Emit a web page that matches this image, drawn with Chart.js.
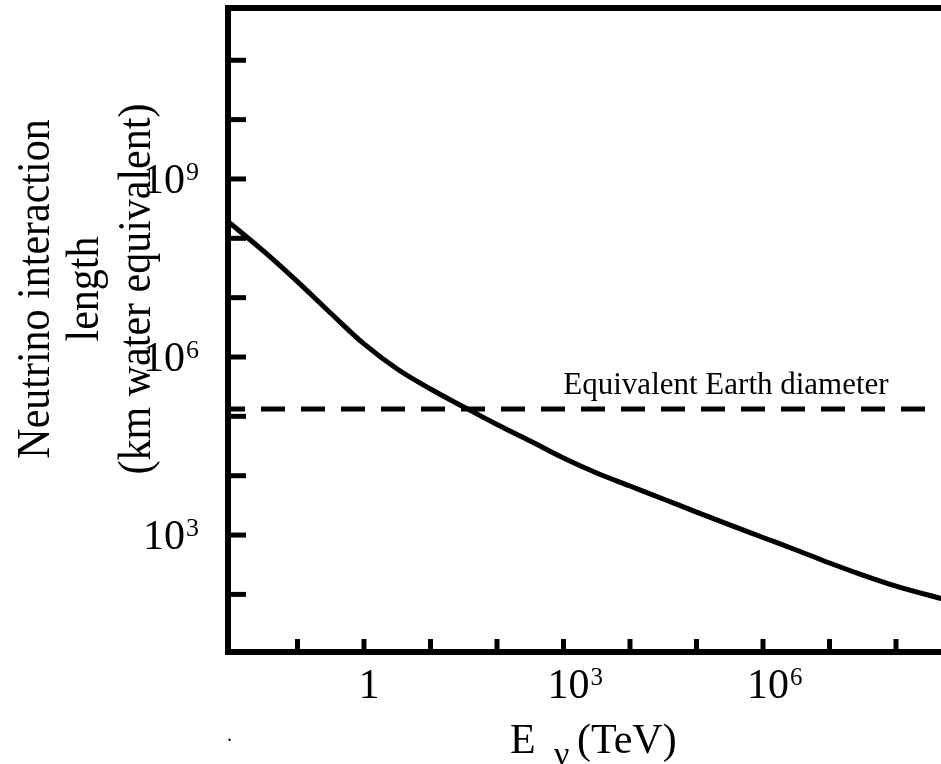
<!DOCTYPE html>
<html>
<head>
<meta charset="utf-8">
<script src="https://cdn.jsdelivr.net/npm/chart.js@4.4.1/dist/chart.umd.min.js"></script>
<style>
html,body{margin:0;padding:0;background:#fff;overflow:hidden}
#wrap{width:941px;height:764px;position:relative}
canvas{display:block}
</style>
</head>
<body>
<div id="wrap"><canvas id="c" width="941" height="764"></canvas></div>
<script>
// ---- data ----
const energyTeV = [0.0089, 0.0316, 0.1, 0.316, 1, 3.16, 10, 31.6, 100, 316, 1e3, 3.16e3, 1e4, 3.16e4, 1e5, 3.16e5, 1e6, 3.16e6, 1e7, 3.16e7, 1e8, 5e8];
const interactionLengthKm = [1.95e8, 5.95e7, 1.86e7, 5.47e6, 1.66e6, 6.28e5, 2.89e5, 1.44e5, 7.29e4, 3.84e4, 1.99e4, 1.11e4, 6.7e3, 4.05e3, 2.44e3, 1.48e3, 910, 560, 338, 212, 138, 84];
const earthDiameterKm = 1.33e5;
const earthLabel = 'Equivalent Earth diameter';

const xRange = [0.00902, 4.75e8];
const yRange = [10.7, 7.6e11];

const xTickValues = [0.1, 1, 10, 100, 1e3, 1e4, 1e5, 1e6, 1e7, 1e8];
const xTickLabels = ['', '1', '', '', '10^3', '', '', '10^6', '', ''];
const yTickValues = [1e2, 1e3, 1e4, 1e5, 1e6, 1e7, 1e8, 1e9, 1e10, 1e11];
const yTickLabels = ['', '10^3', '', '', '10^6', '', '', '10^9', '', ''];

const yTitleLines = ['Neutrino interaction', 'length', '(km water equivalent)'];
const xTitleParts = ['E', 'ν', '(TeV)'];

const SERIF = '"Liberation Serif", "Times New Roman", serif';

function drawPow(ctx, label, x, baseline, align, baseSize, expSize, expRaise) {
  const parts = label.split('^');
  ctx.font = baseSize + 'px ' + SERIF;
  const wb = ctx.measureText(parts[0]).width;
  let we = 0;
  if (parts[1]) { ctx.font = expSize + 'px ' + SERIF; we = ctx.measureText(parts[1]).width; }
  let x0;
  if (align === 'right') x0 = x - wb - we;
  else x0 = x - wb / 2; // base centered
  ctx.textAlign = 'left';
  ctx.textBaseline = 'alphabetic';
  ctx.font = baseSize + 'px ' + SERIF;
  ctx.fillText(parts[0], x0, baseline);
  if (parts[1]) {
    ctx.font = expSize + 'px ' + SERIF;
    ctx.fillText(parts[1], x0 + wb + 1, baseline - expRaise);
  }
}

const framePlugin = {
  id: 'frame',
  afterDraw(chart) {
    const ctx = chart.ctx, a = chart.chartArea;
    const xs = chart.scales.x, ys = chart.scales.y;
    ctx.save();
    ctx.strokeStyle = '#000';
    ctx.fillStyle = '#000';
    // frame: left, top, bottom (right side runs off the page)
    ctx.lineWidth = 6;
    ctx.lineCap = 'square';
    ctx.beginPath();
    ctx.moveTo(chart.width + 10, a.top);
    ctx.lineTo(a.left, a.top);
    ctx.lineTo(a.left, a.bottom);
    ctx.lineTo(chart.width + 10, a.bottom);
    ctx.stroke();
    // inward tick marks
    ctx.lineCap = 'butt';
    ctx.lineWidth = 5;
    yTickValues.forEach(v => {
      const y = ys.getPixelForValue(v);
      ctx.beginPath(); ctx.moveTo(a.left, y); ctx.lineTo(a.left + 18, y); ctx.stroke();
    });
    xTickValues.forEach(v => {
      const x = xs.getPixelForValue(v);
      ctx.beginPath(); ctx.moveTo(x, a.bottom); ctx.lineTo(x, a.bottom - 13); ctx.stroke();
    });
    // tick labels
    xTickValues.forEach((v, i) => {
      if (!xTickLabels[i]) return;
      drawPow(ctx, xTickLabels[i], xs.getPixelForValue(v) + 5, a.bottom + 46, 'center', 42, 25, 13);
    });
    yTickValues.forEach((v, i) => {
      if (!yTickLabels[i]) return;
      drawPow(ctx, yTickLabels[i], 198, ys.getPixelForValue(v) + 14, 'right', 42, 26, 13);
    });
    // y title (rotated, three lines)
    const yMid = 289;
    const lineX = [37, 86, 138];
    ctx.font = '42px ' + SERIF;
    ctx.textAlign = 'center';
    ctx.textBaseline = 'middle';
    yTitleLines.forEach((t, i) => {
      ctx.save();
      ctx.translate(lineX[i], yMid);
      ctx.rotate(-Math.PI / 2);
      ctx.scale(1, 1.08);
      ctx.fillText(t, 0, 0);
      ctx.restore();
    });
    // x title: E_nu (TeV)
    ctx.textAlign = 'left';
    ctx.textBaseline = 'alphabetic';
    ctx.font = '42px ' + SERIF;
    ctx.fillText(xTitleParts[0], 510, 753);
    ctx.font = '34px ' + SERIF;
    ctx.fillText(xTitleParts[1], 554, 765);
    ctx.font = '42px ' + SERIF;
    ctx.fillText(xTitleParts[2], 577, 753);
    // stray dot in the reference
    ctx.font = '20px ' + SERIF;
    ctx.fillText('.', 227, 741);
    // Earth diameter label
    const yLine = ys.getPixelForValue(earthDiameterKm);
    ctx.font = '31px ' + SERIF;
    ctx.textAlign = 'center';
    ctx.fillText(earthLabel, 726, yLine - 15);
    ctx.restore();
  }
};

new Chart(document.getElementById('c'), {
  type: 'line',
  data: {
    datasets: [
      {
        label: 'Neutrino interaction length',
        data: energyTeV.map((e, i) => ({ x: e, y: interactionLengthKm[i] })),
        borderColor: '#000',
        borderWidth: 5,
        pointRadius: 0,
        fill: false,
        cubicInterpolationMode: 'monotone'
      },
      {
        label: earthLabel,
        data: [{ x: xRange[0], y: earthDiameterKm }, { x: xRange[1], y: earthDiameterKm }],
        borderColor: '#000',
        borderWidth: 5,
        borderDash: [24, 16],
        borderDashOffset: 7,
        pointRadius: 0,
        fill: false
      }
    ]
  },
  options: {
    responsive: false,
    animation: false,
    devicePixelRatio: 1,
    layout: { padding: { left: 228, top: 8, right: 0, bottom: 112 } },
    plugins: { legend: { display: false }, tooltip: { enabled: false }, title: { display: false } },
    scales: {
      x: { type: 'logarithmic', min: xRange[0], max: xRange[1], display: false },
      y: { type: 'logarithmic', min: yRange[0], max: yRange[1], display: false }
    }
  },
  plugins: [framePlugin]
});
</script>
</body>
</html>
